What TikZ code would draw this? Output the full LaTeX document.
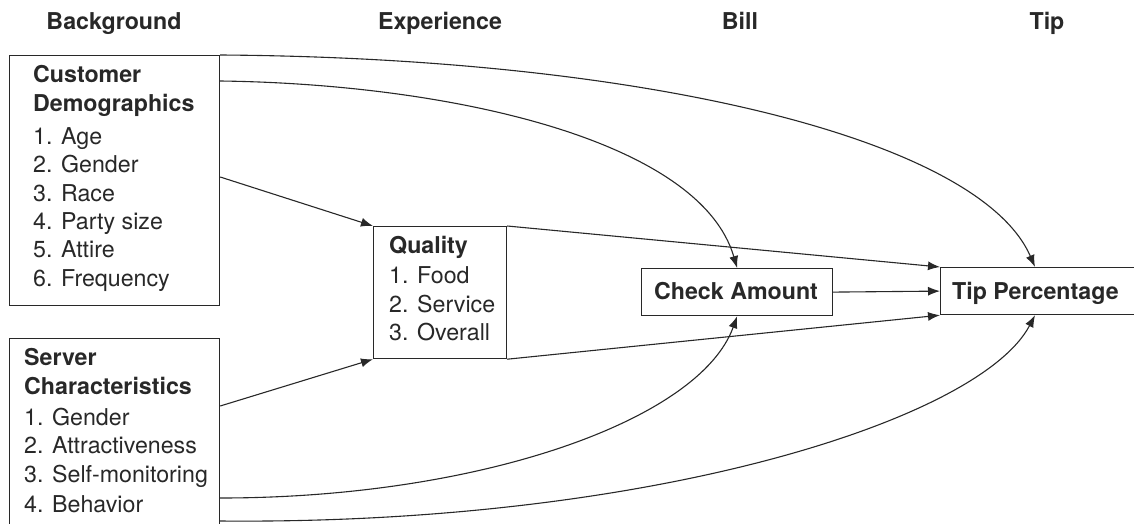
\documentclass[tikz,border=0pt]{standalone}
\usepackage{fontspec}
\setmainfont{TeX Gyre Heros}
\usetikzlibrary{arrows.meta,calc}
\definecolor{ink}{RGB}{40,40,40}
\begin{document}
\begin{tikzpicture}[x=1pt,y=-1pt,
  box/.style={draw=ink, line width=1.2pt, inner sep=0pt, anchor=north west},
  txt/.style={anchor=base west, inner sep=0pt, text=ink, font=\fontsize{23.2}{27}\selectfont},
  btxt/.style={txt, font=\fontsize{23.2}{27}\selectfont\bfseries},
  hd/.style={anchor=base, inner sep=0pt, text=ink, font=\fontsize{23.2}{27}\selectfont\bfseries},
  arr/.style={draw=ink, line width=1.1pt, -{Latex[length=12pt,width=9pt]}}]
\useasboundingbox (0,0) rectangle (1134,524);

% headers
\node[hd] (h1) at (114,30) {Background};
\node[hd] (h2) at (440,30) {Experience};
\node[hd] (h3) at (740,30) {Bill};
\node[hd] (h4) at (1047,30) {Tip};

% boxes
\node[box, minimum width=210pt, minimum height=250pt] (cust) at (9,55) {};
\node[box, minimum width=210pt, minimum height=190pt] (serv) at (9,338) {};
\node[box, minimum width=133pt, minimum height=132pt] (qual) at (373,226) {};
\node[box, minimum width=191pt, minimum height=47pt] (check) at (641,268) {};
\node[box, minimum width=196pt, minimum height=47pt] (tip) at (940,267) {};

% customer text
\node[btxt] (c1) at (33,83) {Customer};
\node[btxt] (c2) at (33,111) {Demographics};
\node[txt] (c3) at (33,144) {1. Age};
\node[txt] (c4) at (33,172) {2. Gender};
\node[txt] (c5) at (33,201) {3. Race};
\node[txt] (c6) at (33,229) {4. Party size};
\node[txt] (c7) at (33,257) {5. Attire};
\node[txt] (c8) at (33,286) {6. Frequency};

% server text
\node[btxt] (s1) at (24,365) {Server};
\node[btxt] (s2) at (24,394) {Characteristics};
\node[txt] (s3) at (24,425) {1. Gender};
\node[txt] (s4) at (24,453) {2. Attractiveness};
\node[txt] (s5) at (24,482) {3. Self-monitoring};
\node[txt] (s6) at (24,512) {4. Behavior};

% quality text
\node[btxt] (q1) at (389,253) {Quality};
\node[txt] (q2) at (389,283) {1. Food};
\node[txt] (q3) at (389,312) {2. Service};
\node[txt] (q4) at (389,340) {3. Overall};

\node[btxt, anchor=base] (ct) at (736,299) {Check Amount};
\node[btxt] (tt) at (952,299) {Tip Percentage};

% straight arrows
\draw[arr] ($(cust.north east)+(0,122)$) -- (qual.north west);
\draw[arr] ($(serv.north east)+(0,68)$) -- (qual.south west);
\draw[arr] (qual.north east) -- (tip.north west);
\draw[arr] (qual.south east) -- (tip.south west);
\draw[arr] (check.east) -- (tip.west);

% curved arrows
\draw[arr] (cust.north east) .. controls (650,58) and (980,140) .. ($(tip.north west)+(95,0)$);
\draw[arr] ($(cust.north east)+(0,26)$) .. controls (450,84) and (700,140) .. (check.north);
\draw[arr] ($(serv.north east)+(0,160)$) .. controls (480,498) and (700,420) .. (check.south);
\draw[arr] ($(serv.north east)+(0,183)$) .. controls (650,525) and (980,420) .. ($(tip.south west)+(95,0)$);
\end{tikzpicture}
\end{document}
